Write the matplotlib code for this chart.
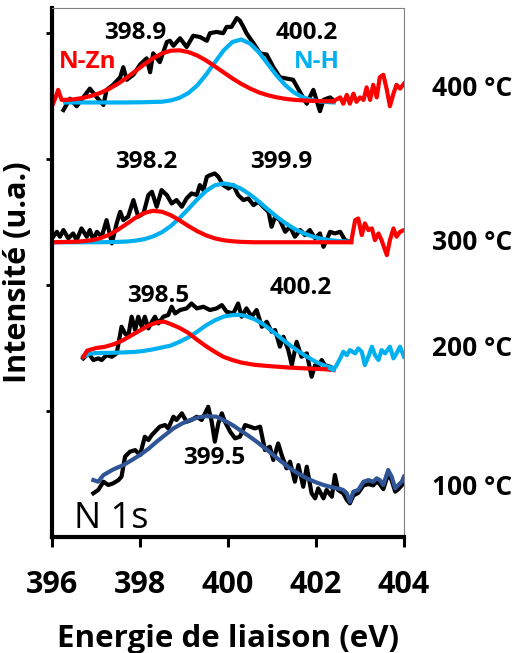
import matplotlib.pyplot as plt

plt.rcParams['font.family'] = ['Open Sans', 'DejaVu Sans']

# ---- 400 °C ----
e400_data = [396.26, 396.41, 396.56, 396.71, 396.86, 397.02, 397.17, 397.24, 397.39, 397.55,
             397.62, 397.70, 397.85, 398.00, 398.15, 398.23, 398.30, 398.45, 398.61, 398.68,
             398.76, 398.91, 399.06, 399.21, 399.36, 399.52, 399.59, 399.74, 399.89, 399.97,
             400.08, 400.20, 400.27, 400.35, 400.42, 400.58, 400.73, 400.88, 401.03, 401.18,
             401.33, 401.48, 401.64, 401.79, 401.94, 402.09, 402.17, 402.24, 402.32, 402.39]
i400_data = [3.39, 3.48, 3.42, 3.49, 3.56, 3.49, 3.43, 3.55, 3.59, 3.65,
             3.73, 3.63, 3.67, 3.75, 3.80, 3.69, 3.84, 3.77, 3.93, 3.94,
             3.90, 3.96, 3.89, 3.98, 3.97, 3.94, 4.00, 4.01, 4.00, 4.05,
             4.05, 4.12, 4.10, 4.05, 4.00, 3.92, 3.84, 3.83, 3.73, 3.65,
             3.64, 3.63, 3.53, 3.44, 3.55, 3.38, 3.47, 3.48, 3.49, 3.47]
e400_fit = [396.3, 396.5, 396.7, 396.9, 397.1, 397.3, 397.5, 397.7, 397.9, 398.1,
            398.3, 398.5, 398.7, 398.9, 399.1, 399.3, 399.5, 399.7, 399.9, 400.1,
            400.3, 400.5, 400.7, 400.9, 401.1, 401.3, 401.5, 401.7, 401.9, 402.1,
            402.3, 402.4]
i400_nzn = [3.47, 3.475, 3.486, 3.503, 3.526, 3.559, 3.599, 3.647, 3.700, 3.754,
            3.802, 3.839, 3.861, 3.864, 3.850, 3.823, 3.784, 3.737, 3.689, 3.641,
            3.598, 3.561, 3.530, 3.508, 3.491, 3.479, 3.471, 3.466, 3.463, 3.461,
            3.46, 3.46]
i400_nh = [3.45, 3.45, 3.45, 3.45, 3.45, 3.45, 3.45, 3.45, 3.451, 3.452,
           3.454, 3.456, 3.466, 3.487, 3.525, 3.585, 3.67, 3.768, 3.863, 3.93,
           3.95, 3.918, 3.849, 3.758, 3.666, 3.588, 3.529, 3.491, 3.47, 3.458,
           3.452, 3.45]
e400_left = [396.0, 396.07, 396.14, 396.22, 396.3]
i400_left = [3.42, 3.48, 3.55, 3.47, 3.47]
e400_right = [402.39, 402.55, 402.62, 402.70, 402.77, 402.85, 402.92, 403.0, 403.08, 403.15,
              403.23, 403.30, 403.38, 403.45, 403.53, 403.61, 403.68, 403.76, 403.83, 403.91,
              404.0]
i400_right = [3.46, 3.49, 3.44, 3.51, 3.44, 3.52, 3.455, 3.49, 3.47, 3.57,
              3.47, 3.59, 3.49, 3.65, 3.67, 3.55, 3.42, 3.52, 3.59, 3.56,
              3.60]

# ---- 300 °C ----
e300_data = [396.00, 396.11, 396.18, 396.26, 396.37, 396.48, 396.56, 396.67, 396.79, 396.86,
             396.94, 397.02, 397.13, 397.24, 397.36, 397.47, 397.55, 397.62, 397.73, 397.85,
             397.96, 398.08, 398.19, 398.27, 398.38, 398.49, 398.61, 398.72, 398.83, 398.95,
             399.06, 399.17, 399.29, 399.36, 399.44, 399.52, 399.59, 399.70, 399.78, 399.89,
             400.01, 400.12, 400.23, 400.35, 400.46, 400.58, 400.69, 400.80, 400.92, 400.99,
             401.07, 401.18, 401.30, 401.41, 401.52, 401.64, 401.75, 401.86, 401.98, 402.09,
             402.17, 402.24, 402.32, 402.43, 402.55, 402.66, 402.77]
i300_data = [2.371, 2.423, 2.384, 2.437, 2.371, 2.410, 2.357, 2.450, 2.384, 2.437,
             2.357, 2.423, 2.384, 2.516, 2.331, 2.490, 2.582, 2.516, 2.543, 2.675,
             2.543, 2.569, 2.715, 2.741, 2.622, 2.754, 2.715, 2.648, 2.675, 2.622,
             2.688, 2.728, 2.715, 2.794, 2.754, 2.860, 2.873, 2.886, 2.860, 2.794,
             2.767, 2.794, 2.715, 2.675, 2.688, 2.635, 2.662, 2.622, 2.582, 2.463,
             2.543, 2.516, 2.423, 2.463, 2.384, 2.437, 2.397, 2.437, 2.371, 2.410,
             2.304, 2.357, 2.423, 2.410, 2.423, 2.357, 2.344]
e300_nzn = [396.0, 396.6, 396.9, 397.1, 397.3, 397.5, 397.7, 397.9, 398.1, 398.3,
            398.5, 398.7, 398.9, 399.1, 399.3, 399.5, 399.7, 399.9, 400.1, 400.3,
            400.6, 401.5, 402.8]
i300_nzn = [2.34, 2.345, 2.356, 2.373, 2.40, 2.44, 2.487, 2.535, 2.573, 2.59,
            2.582, 2.555, 2.514, 2.469, 2.428, 2.395, 2.371, 2.356, 2.348, 2.343,
            2.34, 2.34, 2.34]
e300_nh = [396.0, 396.6, 397.0, 397.4, 397.7, 397.9, 398.1, 398.3, 398.5, 398.7,
           398.9, 399.1, 399.3, 399.5, 399.7, 399.9, 400.1, 400.3, 400.5, 400.7,
           400.9, 401.1, 401.3, 401.5, 401.7, 401.9, 402.1, 402.3, 402.5, 402.8]
i300_nh = [2.34, 2.34, 2.34, 2.342, 2.346, 2.353, 2.365, 2.387, 2.42, 2.469,
           2.532, 2.605, 2.68, 2.747, 2.792, 2.807, 2.795, 2.765, 2.719, 2.663,
           2.603, 2.545, 2.493, 2.449, 2.414, 2.388, 2.37, 2.358, 2.35, 2.344]
e300_right = [402.8, 402.89, 402.96, 403.04, 403.11, 403.19, 403.27, 403.34, 403.42, 403.49,
              403.61, 403.68, 403.76, 403.83, 403.91, 404.0]
i300_right = [2.344, 2.516, 2.529, 2.397, 2.490, 2.437, 2.450, 2.357, 2.410, 2.357,
              2.238, 2.357, 2.450, 2.384, 2.423, 2.437]

# ---- 200 °C ----
e200_data = [396.71, 396.83, 396.94, 397.05, 397.13, 397.24, 397.36, 397.47, 397.58, 397.66,
             397.73, 397.81, 397.89, 397.96, 398.04, 398.11, 398.19, 398.27, 398.34, 398.42,
             398.53, 398.64, 398.72, 398.80, 398.91, 399.06, 399.17, 399.29, 399.44, 399.59,
             399.74, 399.86, 399.97, 400.12, 400.23, 400.31, 400.42, 400.54, 400.65, 400.77,
             400.88, 400.99, 401.07, 401.18, 401.26, 401.37, 401.45, 401.56, 401.67, 401.79,
             401.90, 401.98, 402.05, 402.13, 402.20, 402.32]
i200_data = [1.418, 1.458, 1.405, 1.418, 1.405, 1.444, 1.431, 1.458, 1.669, 1.616,
             1.590, 1.749, 1.643, 1.749, 1.669, 1.749, 1.656, 1.709, 1.749, 1.696,
             1.749, 1.762, 1.828, 1.775, 1.802, 1.815, 1.854, 1.815, 1.828, 1.802,
             1.815, 1.841, 1.788, 1.775, 1.854, 1.749, 1.815, 1.749, 1.802, 1.669,
             1.709, 1.630, 1.643, 1.511, 1.590, 1.484, 1.365, 1.550, 1.431, 1.458,
             1.272, 1.365, 1.352, 1.405, 1.365, 1.352]
e200_nzn = [396.71, 396.8, 397.0, 397.2, 397.4, 397.6, 397.8, 398.0, 398.2, 398.4,
            398.55, 398.7, 398.9, 399.1, 399.3, 399.5, 399.7, 399.9, 400.1, 400.3,
            400.6, 401.0, 401.4, 401.8, 402.2, 402.4]
i200_nzn = [1.43, 1.48, 1.50, 1.51, 1.53, 1.56, 1.60, 1.64, 1.68, 1.705,
            1.71, 1.69, 1.66, 1.62, 1.565, 1.515, 1.47, 1.43, 1.405, 1.385,
            1.367, 1.355, 1.345, 1.338, 1.332, 1.325]
e200_nh = [396.71, 396.85, 397.0, 397.3, 397.6, 397.9, 398.1, 398.3, 398.5, 398.7,
           398.9, 399.1, 399.3, 399.5, 399.7, 399.9, 400.1, 400.25, 400.4, 400.6,
           400.8, 401.0, 401.2, 401.4, 401.6, 401.8, 402.0, 402.2, 402.35]
i200_nh = [1.43, 1.455, 1.46, 1.462, 1.465, 1.47, 1.478, 1.49, 1.505, 1.52,
           1.55, 1.585, 1.63, 1.68, 1.72, 1.75, 1.762, 1.764, 1.755, 1.73,
           1.69, 1.636, 1.58, 1.525, 1.475, 1.43, 1.39, 1.36, 1.345]
e200_right = [402.32, 402.39, 402.47, 402.55, 402.62, 402.70, 402.77, 402.89, 402.96, 403.04,
              403.11, 403.19, 403.27, 403.34, 403.42, 403.49, 403.57, 403.68, 403.76, 403.83,
              403.91, 404.0]
i200_right = [1.339, 1.325, 1.365, 1.418, 1.471, 1.444, 1.484, 1.458, 1.497, 1.471,
              1.365, 1.431, 1.511, 1.444, 1.405, 1.484, 1.458, 1.511, 1.418, 1.458,
              1.511, 1.431]

# ---- 100 °C ----
e100_data = [396.94, 397.05, 397.17, 397.28, 397.39, 397.51, 397.58, 397.66, 397.77, 397.89,
             398.00, 398.11, 398.19, 398.27, 398.34, 398.45, 398.57, 398.64, 398.76, 398.83,
             398.95, 399.06, 399.17, 399.29, 399.40, 399.48, 399.55, 399.63, 399.70, 399.78,
             399.86, 399.93, 400.05, 400.16, 400.27, 400.39, 400.50, 400.61, 400.73, 400.84,
             400.95, 401.03, 401.14, 401.22, 401.33, 401.41, 401.52, 401.60, 401.71, 401.79,
             401.90, 401.98, 402.05, 402.17, 402.24, 402.36, 402.43, 402.50, 402.62, 402.70,
             402.77, 402.85, 402.96, 403.08, 403.19, 403.30, 403.38, 403.45, 403.53, 403.64,
             403.72, 403.80, 403.87, 403.95, 404.0]
i100_data = [0.347, 0.373, 0.439, 0.413, 0.426, 0.452, 0.479, 0.638, 0.677, 0.690,
             0.651, 0.796, 0.770, 0.810, 0.836, 0.876, 0.889, 0.862, 0.955, 0.929,
             0.982, 0.915, 0.929, 0.955, 0.929, 0.982, 1.034, 0.915, 0.757, 0.902,
             0.982, 0.915, 0.836, 0.783, 0.796, 0.889, 0.876, 0.862, 0.876, 0.690,
             0.717, 0.611, 0.743, 0.651, 0.545, 0.598, 0.439, 0.571, 0.399, 0.558,
             0.347, 0.307, 0.386, 0.307, 0.373, 0.320, 0.492, 0.373, 0.347, 0.294,
             0.267, 0.33, 0.35, 0.41, 0.42, 0.41, 0.44, 0.42, 0.38, 0.50,
             0.45, 0.36, 0.38, 0.41, 0.45]
e100_fit = [396.94, 397.05, 397.17, 397.39, 397.62, 397.81, 398.00, 398.19, 398.38, 398.57,
            398.76, 398.95, 399.14, 399.33, 399.52, 399.74, 399.97, 400.12, 400.27, 400.46,
            400.65, 400.84, 401.03, 401.22, 401.41, 401.60, 401.79, 401.98, 402.17, 402.36,
            402.55, 402.62, 402.70, 402.77, 402.85, 402.96, 403.08, 403.19, 403.30, 403.38,
            403.45, 403.53, 403.64, 403.72, 403.80, 403.87, 403.95, 404.0]
i100_fit = [0.452, 0.439, 0.492, 0.536, 0.571, 0.61, 0.651, 0.70, 0.757, 0.81,
            0.862, 0.90, 0.929, 0.95, 0.960, 0.955, 0.915, 0.885, 0.849, 0.805,
            0.757, 0.705, 0.651, 0.597, 0.545, 0.503, 0.466, 0.437, 0.413, 0.395,
            0.381, 0.373, 0.347, 0.280, 0.360, 0.373, 0.439, 0.452, 0.439, 0.466,
            0.452, 0.413, 0.532, 0.479, 0.386, 0.413, 0.439, 0.479]

temps = ['400 °C', '300 °C', '200 °C', '100 °C']
temp_y = [3.56, 2.34, 1.50, 0.39]
xticks = [396, 398, 400, 402, 404]

red = '#FF0000'
cyan = '#00B0F0'
navy = '#2F5597'
lw = 3.0

fig = plt.figure(figsize=(5.18, 6.53), dpi=100)
ax = fig.add_axes([52 / 518, 1 - 537 / 653, 352 / 518, 529 / 653])

# 400 °C
ax.plot(e400_data, i400_data, color='black', lw=lw)
ax.plot(e400_fit, i400_nh, color=cyan, lw=lw)
ax.plot(e400_fit, i400_nzn, color=red, lw=lw)
ax.plot(e400_left, i400_left, color=red, lw=lw)
ax.plot(e400_right, i400_right, color=red, lw=lw)

# 300 °C
ax.plot(e300_data, i300_data, color='black', lw=lw)
ax.plot(e300_nh, i300_nh, color=cyan, lw=lw)
ax.plot(e300_nzn, i300_nzn, color=red, lw=lw)
ax.plot(e300_right, i300_right, color=red, lw=lw)

# 200 °C
ax.plot(e200_data, i200_data, color='black', lw=lw)
ax.plot(e200_nh, i200_nh, color=cyan, lw=lw)
ax.plot(e200_nzn, i200_nzn, color=red, lw=lw)
ax.plot(e200_right, i200_right, color=cyan, lw=lw)

# 100 °C
ax.plot(e100_data, i100_data, color='black', lw=lw)
ax.plot(e100_fit, i100_fit, color=navy, lw=lw)

# peak positions
lab = dict(fontsize=17.5, fontweight='bold', ha='center', va='center')
ax.text(397.89, 4.0, '398.9', **lab)
ax.text(401.80, 4.0, '400.2', **lab)
ax.text(396.80, 3.77, 'N-Zn', color=red, **lab)
ax.text(402.02, 3.77, 'N-H', color=cyan, **lab)
ax.text(398.14, 2.98, '398.2', **lab)
ax.text(401.20, 2.98, '399.9', **lab)
ax.text(398.41, 1.91, '398.5', **lab)
ax.text(401.66, 1.98, '400.2', **lab)
ax.text(399.68, 0.63, '399.5', **lab)
ax.text(396.50, 0.07, 'N 1s', fontsize=26, ha='left', va='baseline')

for t, y in zip(temps, temp_y):
    ax.text(404.64, y, t, fontsize=19, fontweight='bold', ha='left', va='center', clip_on=False)

ax.set_xlim(396, 404)
ax.set_ylim(0, 4.2)
ax.tick_params(axis='x', length=7, width=2.2, pad=17, labelsize=22)
ax.tick_params(axis='y', length=4, width=2)
ax.set_xticks(xticks)
ax.set_xticklabels([str(v) for v in xticks])
ax.set_yticks([1, 2, 3, 4])
ax.set_yticklabels([])
for lbl in ax.get_xticklabels():
    lbl.set_fontweight('bold')
    lbl.set_fontsize(22)

ax.spines['left'].set_linewidth(3)
ax.spines['bottom'].set_linewidth(3)
for s in ['top', 'right']:
    ax.spines[s].set_linewidth(0.8)
    ax.spines[s].set_color('#808080')

ax.set_xlabel('Energie de liaison (eV)', fontsize=22.5, fontweight='bold', labelpad=17)
ax.set_ylabel('Intensité (u.a.)', fontsize=22, fontweight='bold', labelpad=6)

fig.savefig('out.png', dpi=100)
